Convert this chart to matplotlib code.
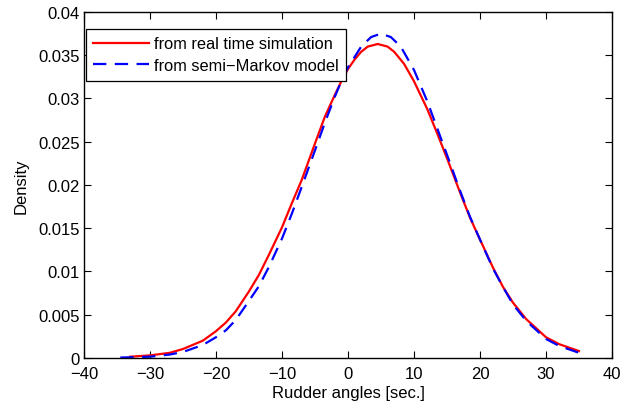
import matplotlib
matplotlib.use("Agg")
from matplotlib import pyplot as plt
from matplotlib.ticker import FuncFormatter

plt.rcParams["font.family"] = ["Liberation Sans", "DejaVu Sans"]
plt.rcParams["font.size"] = 12

# values
sim_x = [-33, -30, -27, -25, -22, -20, -18.5, -17, -15, -13.5,
         -12, -10, -8.5, -7, -5, -3.5, -2, -1, 0, 1,
         2, 3, 4.5, 6, 7, 8.5, 10, 12, 13.5, 15,
         17, 18.5, 20, 22, 23.5, 25, 27, 30, 32, 35]
sim_density = [0.00015, 0.0003, 0.0006, 0.00104, 0.002, 0.0031, 0.0041, 0.0054, 0.0077, 0.0096,
               0.0119, 0.0151, 0.0179, 0.0206, 0.0248, 0.0279, 0.0304, 0.0320, 0.0334, 0.0345,
               0.0354, 0.0360, 0.0363, 0.0360, 0.0354, 0.0340, 0.0320, 0.0288, 0.0260, 0.0231,
               0.0191, 0.0162, 0.0137, 0.0104, 0.0082, 0.0064, 0.0045, 0.0024, 0.0016, 0.0008]

markov_x = [-34.5, -30, -27, -25, -22, -20, -18.5, -17, -15, -13.5,
            -12, -10, -8.5, -7, -5, -3.5, -2, -1, 0, 2,
            3.5, 5, 6.5, 8, 10, 12, 13.5, 15, 17, 18.5,
            20, 22, 23.5, 25, 27, 30, 32, 35]
markov_density = [0.00005, 0.00015, 0.0004, 0.0007, 0.0015, 0.0024, 0.0032, 0.0044, 0.0066, 0.0083,
                  0.0105, 0.0138, 0.0167, 0.0198, 0.0240, 0.0272, 0.0302, 0.0320, 0.0336, 0.0360,
                  0.0371, 0.0375, 0.0371, 0.0360, 0.0333, 0.0297, 0.0266, 0.0235, 0.0193, 0.0163,
                  0.0137, 0.0103, 0.0082, 0.0062, 0.0043, 0.0022, 0.0014, 0.0006]

x_ticks = [-40, -30, -20, -10, 0, 10, 20, 30, 40]
y_ticks = [0, 0.005, 0.01, 0.015, 0.02, 0.025, 0.03, 0.035, 0.04]

fig = plt.figure(figsize=(6.23, 4.10), dpi=100)
ax = fig.add_axes([0.1348, 0.1244, 0.8475, 0.8439])

ax.plot(sim_x, sim_density, color="#ff0000", linewidth=1.6,
        label="from real time simulation")
ax.plot(markov_x, markov_density, color="#0000ff", linewidth=1.6,
        linestyle=(0, (6, 3.8)), label="from semi\u2212Markov model")

ax.set_xlim(-40, 40)
ax.set_ylim(0, 0.04)
ax.set_xticks(x_ticks)
ax.set_yticks(y_ticks)
ax.yaxis.set_major_formatter(FuncFormatter(lambda v, p: "%g" % v))
ax.tick_params(direction="in", length=5, width=0.8, top=True, right=True,
               labelsize=12, colors="black")
ax.tick_params(axis="x", pad=6)
ax.tick_params(axis="y", pad=3)
for s in ax.spines.values():
    s.set_linewidth(1.0)

ax.set_xlabel("Rudder angles [sec.]", fontsize=12, labelpad=3)
ax.set_ylabel("Density", fontsize=12, labelpad=7)

leg = ax.legend(loc="upper left", bbox_to_anchor=(0.004, 0.951), borderaxespad=0,
                fontsize=11.8, fancybox=False, framealpha=1, edgecolor="black",
                handlelength=3.4, handletextpad=0.3, borderpad=0.45, labelspacing=0.42)
leg.get_frame().set_linewidth(0.9)

fig.savefig("out.png", dpi=100)
